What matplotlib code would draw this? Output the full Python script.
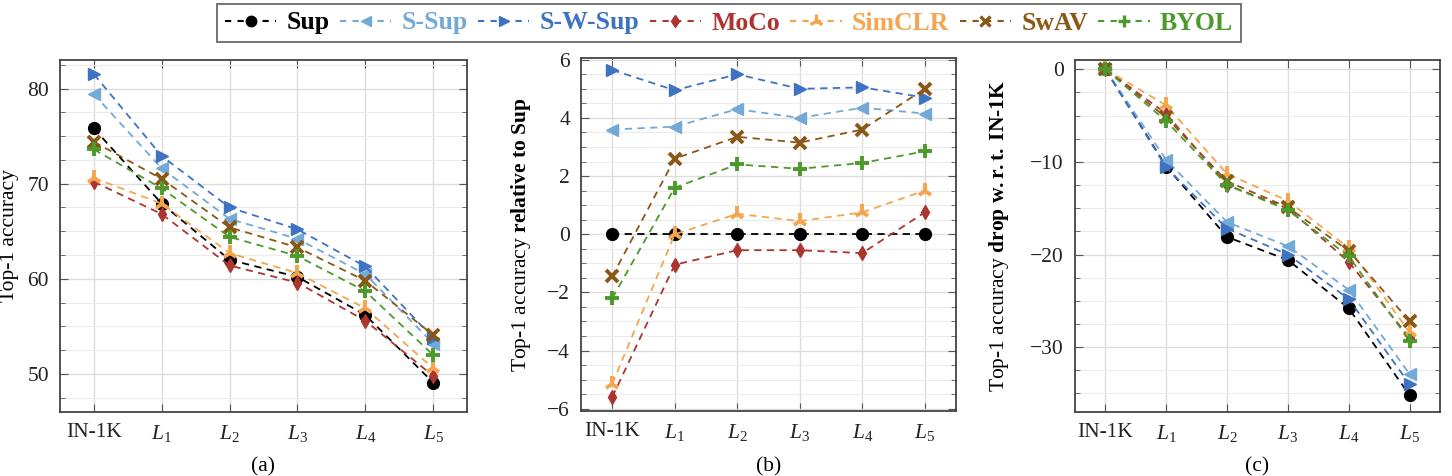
import matplotlib
matplotlib.use('Agg')
import matplotlib.pyplot as plt
from matplotlib.ticker import MultipleLocator
from matplotlib.lines import Line2D

plt.rcParams['font.family'] = ['Liberation Serif', 'DejaVu Serif']
plt.rcParams['mathtext.fontset'] = 'custom'
plt.rcParams['mathtext.rm'] = 'Liberation Serif'
plt.rcParams['mathtext.it'] = 'Liberation Serif:italic'
plt.rcParams['mathtext.bf'] = 'Liberation Serif:bold'

# data
categories = ['IN-1K', '$L_1$', '$L_2$', '$L_3$', '$L_4$', '$L_5$']
methods = ['Sup', 'S-Sup', 'S-W-Sup', 'MoCo', 'SimCLR', 'SwAV', 'BYOL']

# (a) top-1 accuracy
acc_sup = [75.8, 67.9, 62.0, 60.2, 56.2, 49.1]
acc_ssup = [79.4, 71.6, 66.3, 64.2, 60.5, 53.2]
acc_swsup = [81.5, 72.9, 67.5, 65.2, 61.3, 53.8]
acc_moco = [70.2, 66.8, 61.4, 59.6, 55.6, 49.8]
acc_simclr = [70.6, 67.9, 62.7, 60.6, 56.9, 50.6]
acc_swav = [74.4, 70.5, 65.4, 63.3, 59.8, 54.1]
acc_byol = [73.6, 69.5, 64.4, 62.4, 58.7, 52.0]

# (b) relative to Sup
rel_sup = [0, 0, 0, 0, 0, 0]
rel_ssup = [3.6, 3.7, 4.3, 4.0, 4.35, 4.15]
rel_swsup = [5.65, 4.95, 5.5, 5.0, 5.05, 4.7]
rel_moco = [-5.6, -1.05, -0.55, -0.55, -0.65, 0.75]
rel_simclr = [-5.15, 0.0, 0.7, 0.45, 0.75, 1.5]
rel_swav = [-1.45, 2.6, 3.35, 3.15, 3.6, 5.0]
rel_byol = [-2.2, 1.6, 2.4, 2.25, 2.45, 2.85]

# (c) drop w.r.t. IN-1K
drop_sup = [0, -10.5, -18.1, -20.6, -25.8, -35.2]
drop_ssup = [0, -9.8, -16.5, -19.1, -23.8, -32.9]
drop_swsup = [0, -10.6, -17.2, -20.0, -24.8, -34.0]
drop_moco = [0, -4.8, -12.5, -15.0, -20.8, -29.0]
drop_simclr = [0, -3.9, -11.3, -14.2, -19.3, -28.4]
drop_swav = [0, -5.2, -12.1, -14.9, -19.6, -27.2]
drop_byol = [0, -5.6, -12.5, -15.2, -20.2, -29.3]

colors = ['black', '#72a9d6', '#3d73c1', '#ad3530', '#f4a54d', '#8a5816', '#4b9a2b']
markers = ['o', '<', '>', 'd', '2', 'x', '+']
msizes = [8.5, 8.5, 8.5, 7.5, 11, 8, 10]

panels = [
    [acc_sup, acc_ssup, acc_swsup, acc_moco, acc_simclr, acc_swav, acc_byol],
    [rel_sup, rel_ssup, rel_swsup, rel_moco, rel_simclr, rel_swav, rel_byol],
    [drop_sup, drop_ssup, drop_swsup, drop_moco, drop_simclr, drop_swav, drop_byol],
]

W, H = 1452, 476
fig = plt.figure(figsize=(W / 100, H / 100), dpi=100)

boxes = [(60, 60, 467, 412), (581, 58, 956, 411), (1075, 60, 1440, 412)]
ylims = [(46, 83), (-6.08, 6.06), (-37, 1)]
majors = [10, 2, 10]
minors = [2.5, 0.5, 2.5]
ylabels = ['Top-1 accuracy',
           r'Top-1 accuracy $\mathbf{relative\ to\ Sup}$',
           r'Top-1 accuracy $\mathbf{drop\ w.r.t.\ IN\text{-}1K}$']
ylabel_x = [-0.1, -0.128, -0.175]
captions = ['(a)', '(b)', '(c)']

x = list(range(len(categories)))

for i, (l, t, r, b) in enumerate(boxes):
    ax = fig.add_axes([l / W, 1 - b / H, (r - l) / W, (b - t) / H])
    for j, vals in enumerate(panels[i]):
        ax.plot(x, vals, linestyle=(0, (4, 3)), lw=1.3, color=colors[j],
                marker=markers[j], ms=msizes[j],
                mew=2.8 if markers[j] in ('2', 'x', '+') else 1, zorder=3)
    ax.set_xlim(-0.5, 5.5)
    ax.set_ylim(*ylims[i])
    ax.set_xticks(x)
    ax.set_xticklabels(categories)
    ax.yaxis.set_major_locator(MultipleLocator(majors[i]))
    ax.yaxis.set_minor_locator(MultipleLocator(minors[i]))
    ax.grid(True, which='major', color='#dcdcdc', lw=1.0, zorder=0)
    ax.grid(True, which='minor', axis='y', color='#ececec', lw=0.8, zorder=0)
    ax.tick_params(which='both', direction='in', top=True, right=True,
                   labelsize=15.5, color='#555555', labelcolor='#222222')
    ax.tick_params(which='major', length=6, pad=8)
    ax.tick_params(which='minor', length=3.5)
    for s in ax.spines.values():
        s.set_color('#444444')
        s.set_linewidth(1.3)
    ax.set_ylabel(ylabels[i], fontsize=15.5)
    ax.yaxis.set_label_coords(ylabel_x[i], 0.5)
    cx = (l + r) / 2 / W
    fig.text(cx, 1 - 467 / H, captions[i], ha='center', va='center', fontsize=15.5)

# legend
handles = [Line2D([], [], linestyle=(0, (3, 3)), lw=1.5, color=colors[j], marker=markers[j],
                  ms=msizes[j] - 1, mew=2.4 if markers[j] in ('2', 'x', '+') else 1)
           for j in range(len(methods))]
leg = fig.legend(handles, methods, loc='center', bbox_to_anchor=(729 / W, 1 - 23 / H),
                 ncol=7, frameon=True, fancybox=False, edgecolor='#444444',
                 handlelength=2.0, handletextpad=0.4, columnspacing=0.4,
                 borderpad=0.3, prop={'weight': 'bold', 'size': 18.5})
leg.get_frame().set_linewidth(1.3)
for txt, c in zip(leg.get_texts(), colors):
    txt.set_color(c)

fig.savefig('out.png', dpi=100)
